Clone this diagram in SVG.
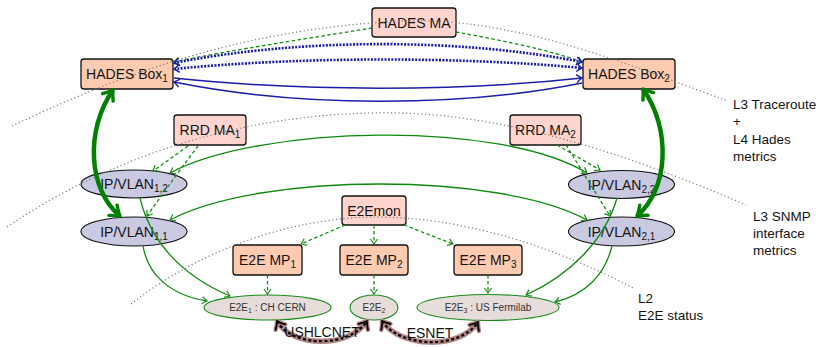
<svg xmlns="http://www.w3.org/2000/svg" width="818" height="347" viewBox="0 0 818 347">
  <style>
    text { font-family: "Liberation Sans", Arial, Helvetica, sans-serif; fill: #141414; }
    .lbl { font-size: 14px; text-anchor: middle; }
    .small { font-size: 10px; text-anchor: middle; fill: #333; }
    .side { font-size: 13.5px; }
    .ma { fill: #ffd4cf; stroke: #111; stroke-width: 1.3; }
    .box { fill: #ffcbb0; stroke: #111; stroke-width: 1.3; }
    .ip { fill: #c9c9e2; stroke: #111; stroke-width: 1.1; }
    .e2e { fill: #e6dcd9; stroke: #1a8a1a; stroke-width: 1.1; }
    .layer { fill: none; stroke: #7a7a7a; stroke-width: 1.2; stroke-dasharray: 1.2 2.6; }
    .gdash { fill: none; stroke: #168c16; stroke-width: 1.3; stroke-dasharray: 3.5 2.5; marker-end: url(#ag); }
    .gline { fill: none; stroke: #0e8a0e; stroke-width: 1.3; marker-end: url(#ag); }
    .gboth { fill: none; stroke: #0e8a0e; stroke-width: 1.3; marker-start: url(#ag); marker-end: url(#ag); }
    .bdot { fill: none; stroke: #1c1cae; stroke-width: 2.6; stroke-dasharray: 2 1.4; marker-start: url(#ab); marker-end: url(#ab); }
    .bline { fill: none; stroke: #1c1cae; stroke-width: 1.5; marker-end: url(#ab); }
    .thick { fill: none; stroke: #008000; stroke-width: 4.5; marker-start: url(#at); marker-end: url(#at); }
    .wan { fill: none; stroke: #b08484; stroke-width: 5.5; marker-start: url(#awb); marker-end: url(#awb); }
    .wantop { fill: none; stroke: #000; stroke-width: 2.2; stroke-dasharray: 3 2.4; marker-start: url(#awk); marker-end: url(#awk); }
  </style>
  <defs>
    <marker id="ag" viewBox="-7 -5 9 10" markerWidth="9" markerHeight="10" refX="0" refY="0" orient="auto-start-reverse" markerUnits="userSpaceOnUse" overflow="visible">
      <path d="M-5,-3.6 Q-1.6,-1 0,0 Q-1.6,1 -5,3.6" fill="none" stroke="#168c16" stroke-width="1.2"/>
    </marker>
    <marker id="ab" viewBox="-7 -5 9 10" markerWidth="9" markerHeight="10" refX="0" refY="0" orient="auto-start-reverse" markerUnits="userSpaceOnUse" overflow="visible">
      <path d="M-5.5,-4 Q-1.8,-1 0,0 Q-1.8,1 -5.5,4" fill="none" stroke="#1c1cae" stroke-width="1.4"/>
    </marker>
    <marker id="at" viewBox="-12 -9 14 18" markerWidth="14" markerHeight="18" refX="0" refY="0" orient="auto-start-reverse" markerUnits="userSpaceOnUse" overflow="visible">
      <path d="M-9,-6.5 Q-3,-1.5 0,0 Q-3,1.5 -9,6.5" fill="none" stroke="#008000" stroke-width="3.4" stroke-linecap="round" stroke-linejoin="round"/>
    </marker>
    <marker id="awb" viewBox="-12 -9 14 18" markerWidth="14" markerHeight="18" refX="0" refY="0" orient="auto-start-reverse" markerUnits="userSpaceOnUse" overflow="visible">
      <path d="M-7,-5.5 Q-2.5,-1.2 0,0 Q-2.5,1.2 -7,5.5" fill="none" stroke="#b08484" stroke-width="4.5" stroke-linecap="round" stroke-linejoin="round"/>
    </marker>
    <marker id="awk" viewBox="-12 -9 14 18" markerWidth="14" markerHeight="18" refX="0" refY="0" orient="auto-start-reverse" markerUnits="userSpaceOnUse" overflow="visible">
      <path d="M-7,-5.5 Q-2.5,-1.2 0,0 Q-2.5,1.2 -7,5.5" fill="none" stroke="#000" stroke-width="1.8" stroke-linecap="round" stroke-linejoin="round"/>
    </marker>
  </defs>

  <!-- nodes -->
  <g id="hades-ma"><rect class="ma" x="372" y="8" width="84" height="29" rx="3"/><text class="lbl" x="414" y="27.5">HADES MA</text></g>
  <g id="hades-box1"><rect class="box" x="81" y="59" width="92" height="30" rx="3"/><text class="lbl" x="127" y="79">HADES Box<tspan font-size="10" dy="3">1</tspan></text></g>
  <g id="hades-box2"><rect class="box" x="583" y="59" width="92" height="30" rx="3"/><text class="lbl" x="629" y="79">HADES Box<tspan font-size="10" dy="3">2</tspan></text></g>
  <g id="rrd-ma1"><rect class="ma" x="174" y="115" width="72" height="30" rx="3"/><text class="lbl" x="210" y="135">RRD MA<tspan font-size="10" dy="3">1</tspan></text></g>
  <g id="rrd-ma2"><rect class="ma" x="510" y="115" width="71" height="30" rx="3"/><text class="lbl" x="545.5" y="135">RRD MA<tspan font-size="10" dy="3">2</tspan></text></g>
  <g id="ipvlan12"><ellipse class="ip" cx="134" cy="184" rx="53" ry="14"/><text class="lbl" x="134" y="189">IP/VLAN<tspan font-size="10" dy="3">1,2</tspan></text></g>
  <g id="ipvlan11"><ellipse class="ip" cx="134" cy="231.5" rx="53" ry="14.5"/><text class="lbl" x="134" y="236.5">IP/VLAN<tspan font-size="10" dy="3">1,1</tspan></text></g>
  <g id="ipvlan22"><ellipse class="ip" cx="621.5" cy="184.5" rx="53" ry="14"/><text class="lbl" x="621.5" y="189.5">IP/VLAN<tspan font-size="10" dy="3">2,2</tspan></text></g>
  <g id="ipvlan21"><ellipse class="ip" cx="621.5" cy="231.5" rx="53" ry="14.5"/><text class="lbl" x="621.5" y="236.5">IP/VLAN<tspan font-size="10" dy="3">2,1</tspan></text></g>
  <g id="e2emon"><rect class="ma" x="342" y="196" width="64" height="29" rx="3"/><text class="lbl" x="374" y="215.5">E2Emon</text></g>
  <g id="e2e-mp1"><rect class="box" x="233" y="245" width="69" height="30" rx="3"/><text class="lbl" x="267.5" y="265">E2E MP<tspan font-size="10" dy="3">1</tspan></text></g>
  <g id="e2e-mp2"><rect class="box" x="340" y="245" width="68" height="30" rx="3"/><text class="lbl" x="374" y="265">E2E MP<tspan font-size="10" dy="3">2</tspan></text></g>
  <g id="e2e-mp3"><rect class="box" x="454" y="245" width="68" height="30" rx="3"/><text class="lbl" x="488" y="265">E2E MP<tspan font-size="10" dy="3">3</tspan></text></g>
  <g id="e2e1"><ellipse class="e2e" cx="267.5" cy="307.5" rx="63.5" ry="12.5"/><text class="small" x="267.5" y="311">E2E<tspan font-size="7" dy="2">1</tspan><tspan dy="-2"> : CH CERN</tspan></text></g>
  <g id="e2e2"><ellipse class="e2e" cx="374" cy="307.5" rx="24" ry="12.5"/><text class="small" x="374" y="311">E2E<tspan font-size="7" dy="2">2</tspan></text></g>
  <g id="e2e3"><ellipse class="e2e" cx="488" cy="307.5" rx="71" ry="13"/><text class="small" x="488" y="311">E2E<tspan font-size="7" dy="2">3</tspan><tspan dy="-2"> : US Fermilab</tspan></text></g>

  <!-- measurement-layer boundaries, drawn across the nodes -->
  <g id="layers">
    <path class="layer" d="M12,126 C110,80 230,30 400,21 C520,16 640,70 728,101"/>
    <path class="layer" d="M7,227 C120,150 260,110 400,113 C500,115 620,150 746,205"/>
    <path class="layer" d="M131,304 C200,250 290,218 374,217 C470,217 560,250 633,288"/>
  </g>

  <!-- connectors -->
  <g id="connectors">
    <!-- HADES MA to the boxes -->
    <path class="gdash" d="M372,28 C330,35 230,50 174,62"/>
    <path class="gdash" d="M456,32 C500,40 550,50 582,62"/>
    <!-- HADES probes between the boxes -->
    <path class="bdot" d="M174,63 C300,38 460,38 582,62"/>
    <path class="bdot" d="M174,69 C300,56.5 460,56.5 582,68"/>
    <path class="bline" d="M174,78 C300,91.5 460,91.5 582,78"/>
    <path class="bline" d="M582,83 C460,107.5 300,107.5 174,82"/>
    <!-- box to interface -->
    <path class="thick" d="M113,90 C85,130 88,190 120,216"/>
    <path class="thick" d="M643,89 C672,130 668,190 637,216"/>
    <!-- RRD MA to interfaces -->
    <path class="gdash" d="M188,146 L153,171"/>
    <path class="gdash" d="M198,146 Q178,172 147,216"/>
    <path class="gdash" d="M557,145 L600,170"/>
    <path class="gdash" d="M566,145 L610,216"/>
    <!-- interface links -->
    <path class="gboth" d="M170,173 C260,125 500,120 587,173"/>
    <path class="gboth" d="M170,220 C260,172 500,172 587,220"/>
    <!-- interfaces to E2E links -->
    <path class="gline" d="M140,198 C150,240 180,275 230,296"/>
    <path class="gline" d="M143,246 C148,275 170,295 207,301"/>
    <path class="gline" d="M617,198 C605,240 570,275 526,295"/>
    <path class="gline" d="M612,246 C605,275 585,295 555,302"/>
    <!-- E2Emon to measurement points -->
    <path class="gdash" d="M345,225 L301,244"/>
    <path class="gdash" d="M374,225 L374,244"/>
    <path class="gdash" d="M404,225 L453,244"/>
    <!-- measurement points to E2E links -->
    <path class="gdash" d="M267.5,275 L267.5,294"/>
    <path class="gdash" d="M374,275 L374,294"/>
    <path class="gdash" d="M488,275 L488,293"/>
    <!-- wide-area segments -->
    <path class="wan" d="M277,321 C292,348 350,348 367,321"/>
    <path class="wantop" d="M277,321 C292,348 350,348 367,321"/>
    <path class="wan" d="M382,321 C400,348 460,350 478,322"/>
    <path class="wantop" d="M382,321 C400,348 460,350 478,322"/>
    <text class="lbl" x="322" y="337">USHLCNET</text>
    <text class="lbl" x="430" y="338">ESNET</text>
  </g>

  <!-- layer captions -->
  <g id="captions">
    <text class="side" x="733" y="108.5">L3 Traceroute</text>
    <text class="side" x="733" y="126">+</text>
    <text class="side" x="733" y="143.5">L4 Hades</text>
    <text class="side" x="733" y="161">metrics</text>
    <text class="side" x="753" y="221">L3 SNMP</text>
    <text class="side" x="753" y="238">interface</text>
    <text class="side" x="753" y="255">metrics</text>
    <text class="side" x="638" y="303">L2</text>
    <text class="side" x="638" y="320">E2E status</text>
  </g>
</svg>
